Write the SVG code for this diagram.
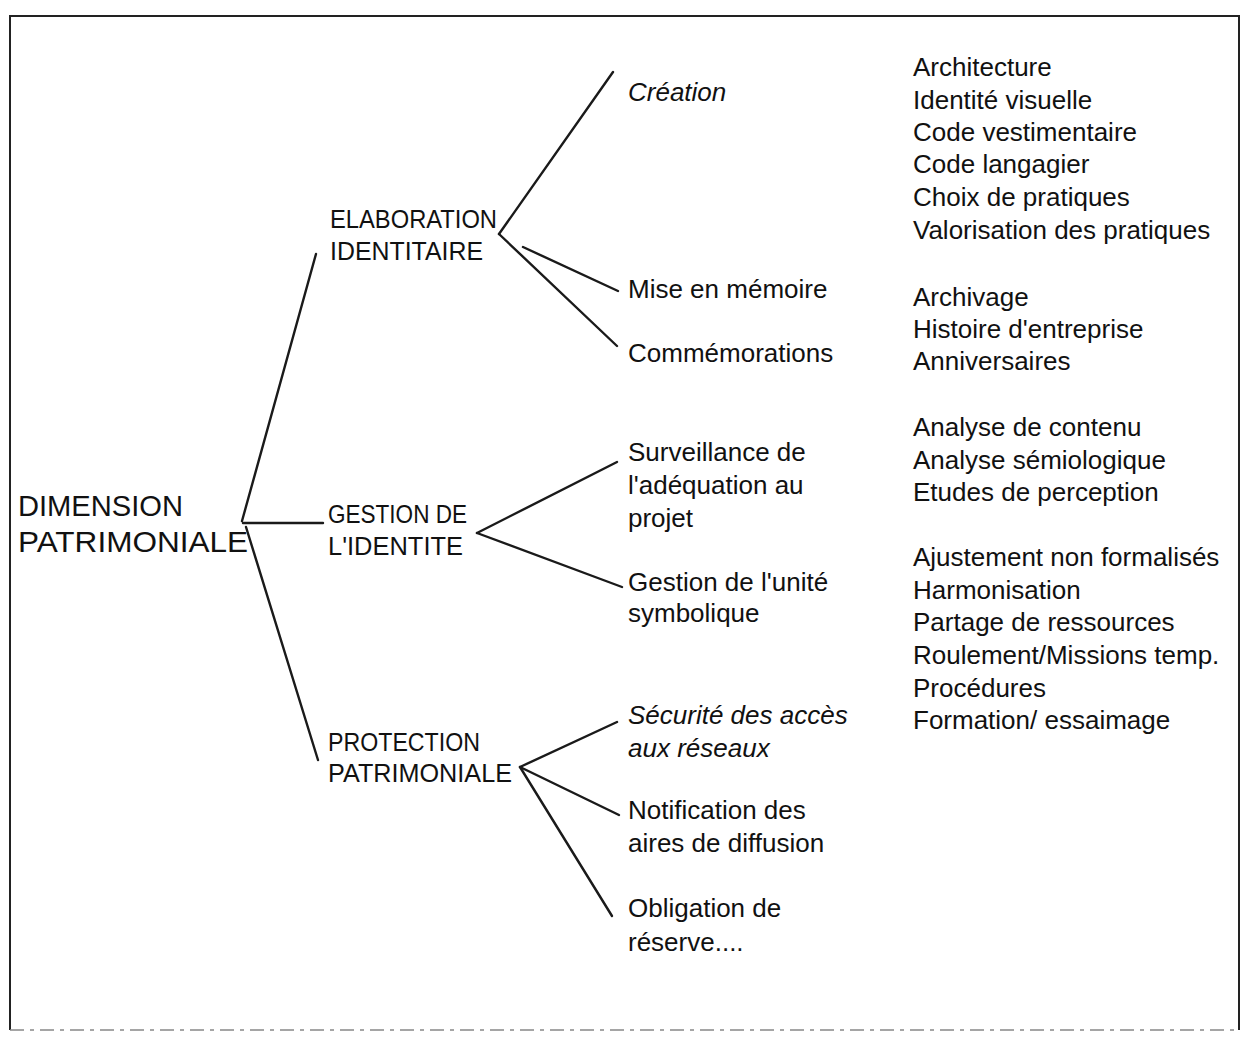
<svg xmlns="http://www.w3.org/2000/svg" width="1247" height="1038" viewBox="0 0 1247 1038">
<style>
text{font-family:"Liberation Sans",Arial,sans-serif;fill:#111;}
.root{font-size:30px;}
.main{font-size:25.5px;}
.sub{font-size:26px;}
.it{font-style:italic;}
.leaf{font-size:26px;}
.edge{stroke:#1a1a1a;stroke-width:2.4;fill:none;stroke-linecap:round;}
.frame{stroke:#222;stroke-width:2;fill:none;}
</style>
<rect width="1247" height="1038" fill="#fff"/>
<g id="frame">
<path class="frame" d="M10,1030 L10,16 L1239,16 L1239,1030"/>
<line x1="10" y1="1030" x2="1239" y2="1030" stroke="#888" stroke-width="1.5" stroke-dasharray="14,6,4,6"/>
</g>
<g id="connectors">
<line class="edge" x1="242" y1="521" x2="316" y2="254"/>
<line class="edge" x1="243" y1="523" x2="323" y2="523"/>
<line class="edge" x1="246" y1="527" x2="318" y2="760"/>
<line class="edge" x1="499" y1="234" x2="613" y2="72"/>
<line class="edge" x1="523" y1="247" x2="618" y2="291"/>
<line class="edge" x1="499" y1="234" x2="617" y2="346"/>
<line class="edge" x1="477" y1="533" x2="617" y2="462"/>
<line class="edge" x1="477" y1="533" x2="622" y2="587"/>
<line class="edge" x1="520" y1="767" x2="617" y2="722"/>
<line class="edge" x1="520" y1="767" x2="619" y2="815"/>
<line class="edge" x1="520" y1="767" x2="612" y2="916"/>
</g>
<g id="dimension-patrimoniale">
<text class="root" x="18" y="516" textLength="165" lengthAdjust="spacingAndGlyphs">DIMENSION</text>
<text class="root" x="18" y="552" textLength="230" lengthAdjust="spacingAndGlyphs">PATRIMONIALE</text>
</g>
<g id="elaboration-identitaire">
<text class="main" x="330" y="228" textLength="167" lengthAdjust="spacingAndGlyphs">ELABORATION</text>
<text class="main" x="330" y="260" textLength="153" lengthAdjust="spacingAndGlyphs">IDENTITAIRE</text>
</g>
<g id="gestion-identite">
<text class="main" x="328" y="523" textLength="139" lengthAdjust="spacingAndGlyphs">GESTION DE</text>
<text class="main" x="328" y="555" textLength="135" lengthAdjust="spacingAndGlyphs">L'IDENTITE</text>
</g>
<g id="protection-patrimoniale">
<text class="main" x="328" y="751" textLength="152" lengthAdjust="spacingAndGlyphs">PROTECTION</text>
<text class="main" x="328" y="782" textLength="184" lengthAdjust="spacingAndGlyphs">PATRIMONIALE</text>
</g>
<g id="creation"><text class="sub it" x="628" y="101">Création</text></g>
<g id="mise-en-memoire"><text class="sub" x="628" y="298">Mise en mémoire</text></g>
<g id="commemorations"><text class="sub" x="628" y="362">Commémorations</text></g>
<g id="surveillance">
<text class="sub" x="628" y="461">Surveillance de</text>
<text class="sub" x="628" y="494">l'adéquation au</text>
<text class="sub" x="628" y="527">projet</text>
</g>
<g id="gestion-unite">
<text class="sub" x="628" y="591">Gestion de l'unité</text>
<text class="sub" x="628" y="622">symbolique</text>
</g>
<g id="securite">
<text class="sub it" x="628" y="724">Sécurité des accès</text>
<text class="sub it" x="628" y="757">aux réseaux</text>
</g>
<g id="notification">
<text class="sub" x="628" y="819">Notification des</text>
<text class="sub" x="628" y="852">aires de diffusion</text>
</g>
<g id="obligation">
<text class="sub" x="628" y="917">Obligation de</text>
<text class="sub" x="628" y="951">réserve....</text>
</g>
<g id="leaves-creation">
<text class="leaf" x="913" y="76">Architecture</text>
<text class="leaf" x="913" y="109">Identité visuelle</text>
<text class="leaf" x="913" y="141">Code vestimentaire</text>
<text class="leaf" x="913" y="173">Code langagier</text>
<text class="leaf" x="913" y="206">Choix de pratiques</text>
<text class="leaf" x="913" y="239">Valorisation des pratiques</text>
</g>
<g id="leaves-memoire">
<text class="leaf" x="913" y="306">Archivage</text>
<text class="leaf" x="913" y="338">Histoire d'entreprise</text>
<text class="leaf" x="913" y="370">Anniversaires</text>
</g>
<g id="leaves-surveillance">
<text class="leaf" x="913" y="436">Analyse de contenu</text>
<text class="leaf" x="913" y="469">Analyse sémiologique</text>
<text class="leaf" x="913" y="501">Etudes de perception</text>
</g>
<g id="leaves-unite">
<text class="leaf" x="913" y="566">Ajustement non formalisés</text>
<text class="leaf" x="913" y="599">Harmonisation</text>
<text class="leaf" x="913" y="631">Partage de ressources</text>
<text class="leaf" x="913" y="664">Roulement/Missions temp.</text>
<text class="leaf" x="913" y="697">Procédures</text>
<text class="leaf" x="913" y="729">Formation/ essaimage</text>
</g>
</svg>
